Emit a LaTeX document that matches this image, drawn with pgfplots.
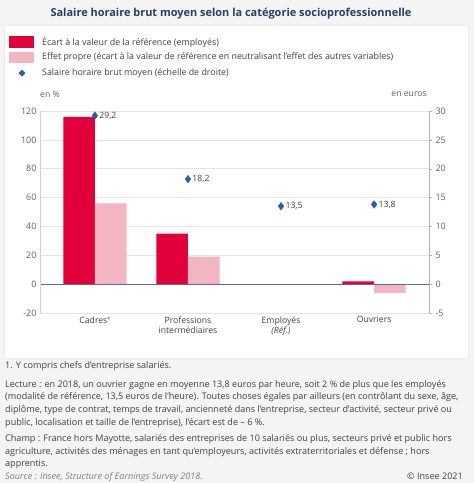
\documentclass[border=0pt]{standalone}
\usepackage{fontspec}
\setmainfont{Open Sans}
\usepackage{pgfplots}
\pgfplotsset{compat=1.18}
\definecolor{bg}{HTML}{F4F4F4}
\definecolor{redbar}{HTML}{E2003B}
\definecolor{pinkbar}{HTML}{F3B5C2}
\definecolor{diam}{HTML}{2F5DAE}
\definecolor{titlec}{HTML}{2B3D63}
\definecolor{txt}{HTML}{404040}
\definecolor{tickc}{HTML}{606060}
\definecolor{zeroc}{HTML}{5D6B8A}
\newcommand{\notefont}{\fontsize{9.1}{12.7}\selectfont}
\begin{document}
\begin{tikzpicture}
% background
\fill[bg] (0bp,0bp) rectangle (474bp,-483bp);
\fill[white] (4bp,-25bp) rectangle (468bp,-358bp);
\draw[gray!15] (4bp,-25bp) rectangle (468bp,-358bp);
% title
\node[font=\fontsize{11}{12}\selectfont\bfseries, text=titlec] at (231bp,-14bp) {Salaire horaire brut moyen selon la catégorie socioprofessionnelle};
% legend
\fill[redbar] (9bp,-36bp) rectangle (34bp,-48bp);
\fill[pinkbar] (9bp,-52bp) rectangle (34bp,-63bp);
\fill[diam] (22bp,-69.5bp) -- (25.5bp,-73bp) -- (22bp,-76.5bp) -- (18.5bp,-73bp) -- cycle;
\begin{scope}[every node/.style={anchor=west, font=\fontsize{8.9}{10}\selectfont, text=txt, inner sep=0pt}]
\node at (42bp,-42bp) {Écart à la valeur de la référence (employés)};
\node at (42bp,-57.5bp) {Effet propre (écart à la valeur de référence en neutralisant l’effet des autres variables)};
\node at (42bp,-73bp) {Salaire horaire brut moyen (échelle de droite)};
\end{scope}
% units
\node[anchor=west, font=\fontsize{8.7}{10}\selectfont, text=tickc, inner sep=0pt] at (40bp,-94bp) {en \%};
\node[anchor=east, font=\fontsize{8.7}{10}\selectfont, text=tickc, inner sep=0pt] at (427bp,-94bp) {en euros};

\begin{axis}[
  at={(40bp,-111bp)}, anchor=north west,
  scale only axis, width=389bp, height=202bp,
  xmin=-0.59, xmax=3.59, ymin=-20, ymax=120,
  ytick={-20,0,20,40,60,80,100,120},
  xtick={0,1,2,3},
  xticklabels={Cadres¹, Professions\\intermédiaires, Employés\\{\itshape (Réf.)}, Ouvriers},
  xticklabel style={align=center, font=\fontsize{8.7}{10}\selectfont, text=txt},
  yticklabel style={font=\fontsize{9}{10}\selectfont, text=tickc},
  /pgf/number format/assume math mode=true,
  major tick length=0pt,
  axis line style={draw=none},
  ymajorgrids, grid style={draw=gray!22, line width=0.6pt},
  ybar=0pt, bar width=0.34,
  clip=false,
]
\addplot[fill=redbar, draw=none] coordinates {(0,116) (1,35) (3,2)};
\addplot[fill=pinkbar, draw=none] coordinates {(0,56) (1,19) (3,-6)};
\draw[zeroc, line width=0.8pt] (axis cs:-0.59,0) -- (axis cs:3.59,0);
\draw[gray!35, line width=0.6pt] (rel axis cs:0,0) -- (rel axis cs:0,1);
\end{axis}

\begin{axis}[
  at={(40bp,-111bp)}, anchor=north west,
  scale only axis, width=389bp, height=202bp,
  xmin=-0.59, xmax=3.59, ymin=-5, ymax=30,
  axis x line=none,
  axis y line*=right,
  ytick={-5,0,5,10,15,20,25,30},
  yticklabel style={font=\fontsize{9}{10}\selectfont, text=tickc},
  /pgf/number format/assume math mode=true,
  y axis line style={draw=gray!60, line width=0.8pt, -},
  ytick style={draw=gray!60},
  major tick length=3bp,
  tick align=outside,
  clip=false,
]
\addplot[only marks, mark=diamond*, mark size=3.8bp, color=diam,
  nodes near coords={\pgfmathprintnumber[use comma,fixed,fixed zerofill,precision=1]{\pgfplotspointmeta}},
  point meta=y,
  every node near coord/.append style={anchor=west, xshift=1bp, font=\fontsize{8.7}{10}\selectfont, text=txt}]
  coordinates {(0,29.2) (1,18.2) (2,13.5) (3,13.8)};
\end{axis}

% notes
\begin{scope}[every node/.style={anchor=base west, font=\notefont, text=txt, inner sep=0pt}]
\node at (5bp,-368bp) {1. Y compris chefs d’entreprise salariés.};
\node at (5bp,-387bp) {Lecture : en 2018, un ouvrier gagne en moyenne 13,8 euros par heure, soit 2 \% de plus que les employés};
\node at (5bp,-399.7bp) {(modalité de référence, 13,5 euros de l’heure). Toutes choses égales par ailleurs (en contrôlant du sexe, âge,};
\node at (5bp,-412.3bp) {diplôme, type de contrat, temps de travail, ancienneté dans l’entreprise, secteur d’activité, secteur privé ou};
\node at (5bp,-425bp) {public, localisation et taille de l’entreprise), l’écart est de – 6 \%.};
\node at (5bp,-441.3bp) {Champ : France hors Mayotte, salariés des entreprises de 10 salariés ou plus, secteurs privé et public hors};
\node at (5bp,-454bp) {agriculture, activités des ménages en tant qu’employeurs, activités extraterritoriales et défense ; hors};
\node at (5bp,-466.3bp) {apprentis.};
\node[text=gray] at (5bp,-479.7bp) {\itshape Source : Insee, Structure of Earnings Survey 2018.};
\end{scope}
\node[anchor=base east, font=\notefont, text=txt, inner sep=0pt] at (463bp,-479.7bp) {© Insee 2021};
\end{tikzpicture}
\end{document}
